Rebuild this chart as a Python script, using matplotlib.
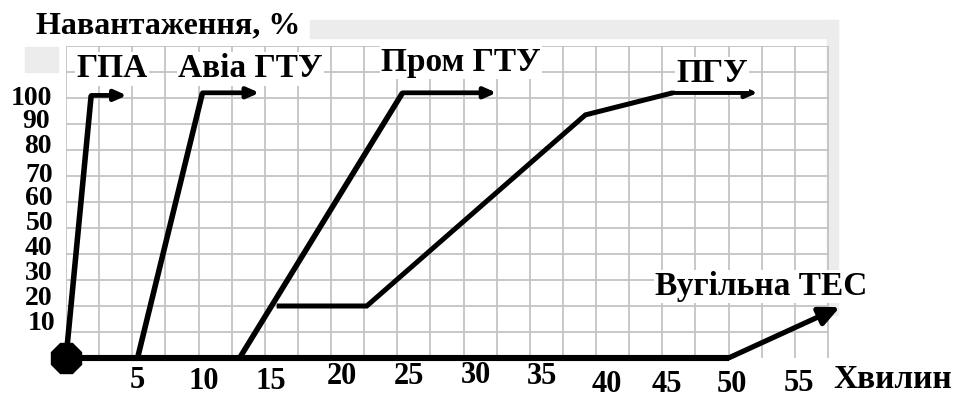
import matplotlib
matplotlib.use("Agg")
import matplotlib.pyplot as plt
from matplotlib.patches import Rectangle

# ---- data (minutes, load %) ----
series_names = ["ГПА", "Авіа ГТУ", "Пром ГТУ", "ПГУ", "Вугільна ТЕС"]
gpa_x = [0, 1.9, 4.6]
gpa_y = [0, 101, 101]
avia_x = [5.4, 10.3, 14.6]
avia_y = [0, 102, 102]
prom_x = [13.1, 25.4, 32.5]
prom_y = [0, 102, 102]
pgu_x = [15.9, 22.7, 39.2, 45.8, 52.2]
pgu_y = [20, 20, 93.5, 102, 102]
coal_x = [0, 50, 58.4]
coal_y = [0, 0, 19.6]

label_x = [3.5, 13.9, 29.8, 48.75, 52.5]
label_y = [108, 108, 110.4, 106, 24.2]

x_ticks = [5, 10, 15, 20, 25, 30, 35, 40, 45, 50, 55]
y_ticks = [100, 90, 80, 70, 60, 50, 40, 30, 20, 10]
x_title = "Хвилин"
y_title = "Навантаження, %"

# ---- style: hand-placed label offsets (pixels) ----
xlab_dx = [5, 5.5, 6, 11, 12, 12, 12, 11, 5, 3.5, 4]
xlab_dy = [30, 31, 31, 26, 26, 25, 26, 34, 34, 34, 33]
ylab_dx = [-14, -16, -14, -13, -13, -13, -14, -14, -13, -11]
ylab_dy = [7, 4, 3, 6, 3, 2, 1, 0, -1, -2]

W, H = 957, 399
fig = plt.figure(figsize=(W / 100, H / 100), dpi=100)
fig.patch.set_facecolor("white")

# light grey scan-frame decorations
gray = "#ececec"
for (x0, y0, w, h) in [(310, 20, 528, 18), (827, 20, 11, 295), (25, 47, 33, 25)]:
    fig.patches.append(Rectangle((x0 / W, 1 - (y0 + h) / H), w / W, h / H,
                                 transform=fig.transFigure, color=gray, zorder=-5))

ax = fig.add_axes([66 / W, 1 - 358 / H, 795 / W, 312 / H])
ax.set_xlim(0, 60)
ax.set_ylim(0, 120)
ax.patch.set_alpha(0)
for s in ax.spines.values():
    s.set_visible(False)
ax.set_xticks([])
ax.set_yticks([])

# grid (every 2.5 min, every 10 %)
gcol = "#c4c4c4"
xg_max = 57.5
for k in range(0, 24):
    ax.plot([2.5 * k, 2.5 * k], [0, 120], color=gcol, lw=1.3, zorder=1)
for v in range(10, 121, 10):
    ax.plot([0, xg_max], [v, v], color=gcol, lw=1.3, zorder=1)

serif = "Liberation Serif"
lw = 4.0
lk = dict(color="black", lw=lw, solid_capstyle="butt", solid_joinstyle="miter",
          zorder=4, clip_on=False)

def arrow_line(xs, ys, ms=14, style="-|>,head_length=0.5,head_width=0.22", lw_=lw):
    ax.plot(xs[:-1], ys[:-1], **dict(lk, lw=lw_))
    ax.annotate("", xy=(xs[-1], ys[-1]), xytext=(xs[-2], ys[-2]),
                arrowprops=dict(arrowstyle=style, color="black", lw=lw_ * 0.85,
                                mutation_scale=ms, shrinkA=0, shrinkB=0),
                zorder=4, annotation_clip=False)

arrow_line(gpa_x, gpa_y)
arrow_line(avia_x, avia_y)
arrow_line(prom_x, prom_y)
arrow_line(pgu_x, pgu_y, lw_=3.6)
arrow_line(coal_x, coal_y, ms=20, style="-|>,head_length=0.6,head_width=0.28", lw_=4.4)

# origin dot
ax.plot([0], [0], marker="8", ms=24, color="black", clip_on=False, zorder=5)

# series labels
for name, lx, ly in zip(series_names, label_x, label_y):
    ax.text(lx, ly, name, ha="center", va="baseline", family=serif,
            fontweight="bold", fontsize=24, zorder=6,
            bbox=dict(facecolor="white", edgecolor="none", pad=1.0))

# tick labels
for t, dx, dy in zip(x_ticks, xlab_dx, xlab_dy):
    ax.annotate(str(t), xy=(t, 0), xytext=(dx, -dy), textcoords="offset pixels",
                ha="center", va="baseline", family=serif, fontweight="bold",
                fontsize=22, annotation_clip=False)
for t, dx, dy in zip(y_ticks, ylab_dx, ylab_dy):
    ax.annotate(str(t), xy=(0, t), xytext=(dx, -dy), textcoords="offset pixels",
                ha="right", va="baseline", family=serif, fontweight="bold",
                fontsize=20, annotation_clip=False)

# axis titles
ax.text(62.4, -11.5, x_title, ha="center", va="baseline", family=serif,
        fontweight="bold", fontsize=24, clip_on=False)
ax.text(7.7, 125, y_title, ha="center", va="baseline", family=serif,
        fontweight="bold", fontsize=23, clip_on=False)

fig.savefig("out.png", dpi=100, facecolor="white")
